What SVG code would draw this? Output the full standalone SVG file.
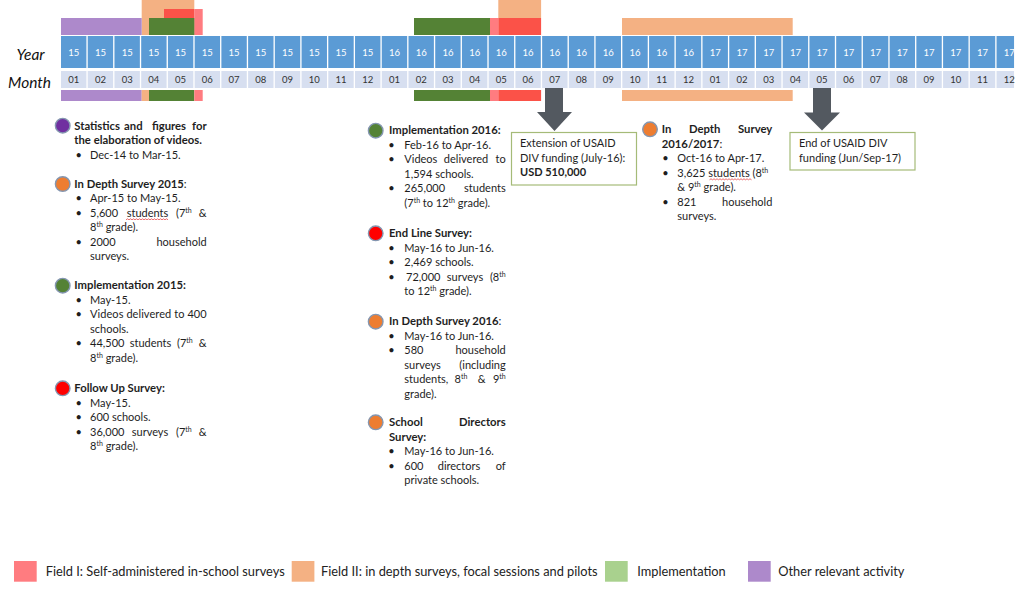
<svg xmlns="http://www.w3.org/2000/svg" width="1024" height="605" viewBox="0 0 1024 605">
<defs>
<style>
text{font-family:Lato,"Liberation Sans",sans-serif;fill:#1e1e1e}
.yc{fill:#5b9bd5}
.mc{fill:#d7dff0}
.yt{font-size:9.5px;fill:#fff;text-anchor:middle}
.mt{font-size:9.5px;fill:#333;text-anchor:middle}
.lab{font-size:15.5px;font-style:italic;fill:#111}
.b{font-size:11px}
.t{font-size:11.3px;font-weight:bold}
.n{font-weight:normal}
.e{text-anchor:end}
.m{text-anchor:middle}
.sup{font-size:7px}
.purple{fill:#ad89cb}
.orange{fill:#f4b183}
.red{fill:#fb5248}
.pink{fill:#ff7c80}
.green{fill:#548235}
.dot{stroke:#8496b0;stroke-width:1.4}
.box{fill:#fff;stroke:#a5bb78;stroke-width:1.2}
.bx{font-size:11px}
.arrow{fill:#535960}
.sq{fill:none;stroke:#e03030;stroke-width:0.7}
.leg{font-size:12.8px;fill:#222}
</style>
<path id="squig" d="M0 0l1.5-1l1.5 1l1.5-1l1.5 1l1.5-1l1.5 1l1.5-1l1.5 1l1.5-1l1.5 1l1.5-1l1.5 1l1.5-1l1.5 1l1.5-1l1.5 1l1.5-1l1.5 1l1.5-1l1.5 1l1.5-1l1.5 1l1.5-1l1.5 1l1.5-1l1.5 1l1.5-1l1.5 1"/>
</defs>
<rect width="1024" height="605" fill="#fff"/>

<g id="bars">
<rect class="orange" x="141.7" y="0" width="52.6" height="35"/>
<rect class="red" x="164" y="9" width="30.3" height="26"/>
<rect class="pink" x="194.3" y="9" width="8.4" height="26"/>
<rect class="purple" x="61" y="18" width="80.7" height="17"/>
<rect class="green" x="149" y="18" width="45.3" height="17"/>
<rect class="purple" x="61" y="90" width="80.7" height="11"/>
<rect class="orange" x="141.7" y="90" width="7.3" height="11"/>
<rect class="green" x="149" y="90" width="45.3" height="11"/>
<rect class="pink" x="194.3" y="90" width="8.4" height="11"/>
<rect class="green" x="414" y="18" width="76" height="17"/>
<rect class="pink" x="490" y="18" width="8.3" height="17"/>
<rect class="red" x="498.3" y="18" width="42.8" height="17"/>
<rect class="orange" x="498.3" y="0" width="42.8" height="18"/>
<rect class="green" x="414" y="90" width="76" height="11"/>
<rect class="pink" x="490" y="90" width="8.3" height="11"/>
<rect class="red" x="498.3" y="90" width="42.8" height="11"/>
<rect class="orange" x="622" y="18" width="170.7" height="17"/>
<rect class="orange" x="622" y="90" width="170.7" height="11"/>
</g>

<g id="timeline">
<text class="lab" x="16.5" y="60">Year</text>
<text class="lab" x="8" y="88">Month</text>
<g id="years">
<rect class="yc" x="61" y="36" width="25.4" height="32"/>
<rect class="yc" x="87.73" y="36" width="25.4" height="32"/>
<rect class="yc" x="114.46" y="36" width="25.4" height="32"/>
<rect class="yc" x="141.19" y="36" width="25.4" height="32"/>
<rect class="yc" x="167.92" y="36" width="25.4" height="32"/>
<rect class="yc" x="194.65" y="36" width="25.4" height="32"/>
<rect class="yc" x="221.38" y="36" width="25.4" height="32"/>
<rect class="yc" x="248.11" y="36" width="25.4" height="32"/>
<rect class="yc" x="274.84" y="36" width="25.4" height="32"/>
<rect class="yc" x="301.57" y="36" width="25.4" height="32"/>
<rect class="yc" x="328.3" y="36" width="25.4" height="32"/>
<rect class="yc" x="355.03" y="36" width="25.4" height="32"/>
<rect class="yc" x="381.76" y="36" width="25.4" height="32"/>
<rect class="yc" x="408.49" y="36" width="25.4" height="32"/>
<rect class="yc" x="435.22" y="36" width="25.4" height="32"/>
<rect class="yc" x="461.95" y="36" width="25.4" height="32"/>
<rect class="yc" x="488.68" y="36" width="25.4" height="32"/>
<rect class="yc" x="515.41" y="36" width="25.4" height="32"/>
<rect class="yc" x="542.14" y="36" width="25.4" height="32"/>
<rect class="yc" x="568.87" y="36" width="25.4" height="32"/>
<rect class="yc" x="595.6" y="36" width="25.4" height="32"/>
<rect class="yc" x="622.33" y="36" width="25.4" height="32"/>
<rect class="yc" x="649.06" y="36" width="25.4" height="32"/>
<rect class="yc" x="675.79" y="36" width="25.4" height="32"/>
<rect class="yc" x="702.52" y="36" width="25.4" height="32"/>
<rect class="yc" x="729.25" y="36" width="25.4" height="32"/>
<rect class="yc" x="755.98" y="36" width="25.4" height="32"/>
<rect class="yc" x="782.71" y="36" width="25.4" height="32"/>
<rect class="yc" x="809.44" y="36" width="25.4" height="32"/>
<rect class="yc" x="836.17" y="36" width="25.4" height="32"/>
<rect class="yc" x="862.9" y="36" width="25.4" height="32"/>
<rect class="yc" x="889.63" y="36" width="25.4" height="32"/>
<rect class="yc" x="916.36" y="36" width="25.4" height="32"/>
<rect class="yc" x="943.09" y="36" width="25.4" height="32"/>
<rect class="yc" x="969.82" y="36" width="25.4" height="32"/>
<rect class="yc" x="996.55" y="36" width="17.5" height="32"/>
<text class="yt" y="55.5"><tspan x="73.7">15</tspan><tspan x="100.43">15</tspan><tspan x="127.16">15</tspan><tspan x="153.89">15</tspan><tspan x="180.62">15</tspan><tspan x="207.35">15</tspan><tspan x="234.08">15</tspan><tspan x="260.81">15</tspan><tspan x="287.54">15</tspan><tspan x="314.27">15</tspan><tspan x="341">15</tspan><tspan x="367.73">15</tspan><tspan x="394.46">16</tspan><tspan x="421.19">16</tspan><tspan x="447.92">16</tspan><tspan x="474.65">16</tspan><tspan x="501.38">16</tspan><tspan x="528.11">16</tspan><tspan x="554.84">16</tspan><tspan x="581.57">16</tspan><tspan x="608.3">16</tspan><tspan x="635.03">16</tspan><tspan x="661.76">16</tspan><tspan x="688.49">16</tspan><tspan x="715.22">17</tspan><tspan x="741.95">17</tspan><tspan x="768.68">17</tspan><tspan x="795.41">17</tspan><tspan x="822.14">17</tspan><tspan x="848.87">17</tspan><tspan x="875.6">17</tspan><tspan x="902.33">17</tspan><tspan x="929.06">17</tspan><tspan x="955.79">17</tspan><tspan x="982.52">17</tspan><tspan x="1009.25">17</tspan></text>
</g>
<g id="months">
<rect class="mc" x="61" y="71" width="25.4" height="17"/>
<rect class="mc" x="87.73" y="71" width="25.4" height="17"/>
<rect class="mc" x="114.46" y="71" width="25.4" height="17"/>
<rect class="mc" x="141.19" y="71" width="25.4" height="17"/>
<rect class="mc" x="167.92" y="71" width="25.4" height="17"/>
<rect class="mc" x="194.65" y="71" width="25.4" height="17"/>
<rect class="mc" x="221.38" y="71" width="25.4" height="17"/>
<rect class="mc" x="248.11" y="71" width="25.4" height="17"/>
<rect class="mc" x="274.84" y="71" width="25.4" height="17"/>
<rect class="mc" x="301.57" y="71" width="25.4" height="17"/>
<rect class="mc" x="328.3" y="71" width="25.4" height="17"/>
<rect class="mc" x="355.03" y="71" width="25.4" height="17"/>
<rect class="mc" x="381.76" y="71" width="25.4" height="17"/>
<rect class="mc" x="408.49" y="71" width="25.4" height="17"/>
<rect class="mc" x="435.22" y="71" width="25.4" height="17"/>
<rect class="mc" x="461.95" y="71" width="25.4" height="17"/>
<rect class="mc" x="488.68" y="71" width="25.4" height="17"/>
<rect class="mc" x="515.41" y="71" width="25.4" height="17"/>
<rect class="mc" x="542.14" y="71" width="25.4" height="17"/>
<rect class="mc" x="568.87" y="71" width="25.4" height="17"/>
<rect class="mc" x="595.6" y="71" width="25.4" height="17"/>
<rect class="mc" x="622.33" y="71" width="25.4" height="17"/>
<rect class="mc" x="649.06" y="71" width="25.4" height="17"/>
<rect class="mc" x="675.79" y="71" width="25.4" height="17"/>
<rect class="mc" x="702.52" y="71" width="25.4" height="17"/>
<rect class="mc" x="729.25" y="71" width="25.4" height="17"/>
<rect class="mc" x="755.98" y="71" width="25.4" height="17"/>
<rect class="mc" x="782.71" y="71" width="25.4" height="17"/>
<rect class="mc" x="809.44" y="71" width="25.4" height="17"/>
<rect class="mc" x="836.17" y="71" width="25.4" height="17"/>
<rect class="mc" x="862.9" y="71" width="25.4" height="17"/>
<rect class="mc" x="889.63" y="71" width="25.4" height="17"/>
<rect class="mc" x="916.36" y="71" width="25.4" height="17"/>
<rect class="mc" x="943.09" y="71" width="25.4" height="17"/>
<rect class="mc" x="969.82" y="71" width="25.4" height="17"/>
<rect class="mc" x="996.55" y="71" width="17.5" height="17"/>
<text class="mt" y="83"><tspan x="73.7">01</tspan><tspan x="100.43">02</tspan><tspan x="127.16">03</tspan><tspan x="153.89">04</tspan><tspan x="180.62">05</tspan><tspan x="207.35">06</tspan><tspan x="234.08">07</tspan><tspan x="260.81">08</tspan><tspan x="287.54">09</tspan><tspan x="314.27">10</tspan><tspan x="341">11</tspan><tspan x="367.73">12</tspan><tspan x="394.46">01</tspan><tspan x="421.19">02</tspan><tspan x="447.92">03</tspan><tspan x="474.65">04</tspan><tspan x="501.38">05</tspan><tspan x="528.11">06</tspan><tspan x="554.84">07</tspan><tspan x="581.57">08</tspan><tspan x="608.3">09</tspan><tspan x="635.03">10</tspan><tspan x="661.76">11</tspan><tspan x="688.49">12</tspan><tspan x="715.22">01</tspan><tspan x="741.95">02</tspan><tspan x="768.68">03</tspan><tspan x="795.41">04</tspan><tspan x="822.14">05</tspan><tspan x="848.87">06</tspan><tspan x="875.6">07</tspan><tspan x="902.33">08</tspan><tspan x="929.06">09</tspan><tspan x="955.79">10</tspan><tspan x="982.52">11</tspan><tspan x="1009.25">12</tspan></text>
</g>
</g>

<g id="connectors">
<polygon class="arrow" points="545,88 563,88 563,112 572,112 554.5,131 537,112 545,112"/>
<polygon class="arrow" points="813,88 831,88 831,112.5 840,112.5 822,130.5 804,112.5 813,112.5"/>
</g>

<g id="extension-box">
<rect class="box" x="511.5" y="132.5" width="125" height="52.5"/>
<text class="bx" x="520" y="147">Extension of USAID</text>
<text class="bx" x="520" y="161.5">DIV funding (July-16):</text>
<text class="bx" x="520" y="176" font-weight="bold">USD 510,000</text>
</g>
<g id="end-box">
<rect class="box" x="790" y="132.5" width="125" height="37.5"/>
<text class="bx" x="799" y="147.3">End of USAID DIV</text>
<text class="bx" x="799" y="162">funding (Jun/Sep-17)</text>
</g>

<g id="statistics-2015">
<circle class="dot" cx="62.7" cy="125.7" r="7.3" fill="#7030a0"/>
<text class="t" x="74.3" y="129.5">Statistics</text>
<text class="t m" x="133.3" y="129.5">and</text>
<text class="t m" x="169" y="129.5">figures</text>
<text class="t e" x="206.7" y="129.5">for</text>
<text class="t" x="74.3" y="144">the elaboration of videos.</text>
<text class="b" x="75.5" y="158.5">•</text><text class="b" x="90" y="158.5">Dec-14 to Mar-15.</text>
</g>

<g id="in-depth-2015">
<circle class="dot" cx="62.7" cy="184" r="7.3" fill="#ed7d31"/>
<text class="t" x="74.3" y="187.7">In Depth Survey 2015<tspan class="n">:</tspan></text>
<text class="b" x="75.5" y="202">•</text><text class="b" x="90" y="202">Apr-15 to May-15.</text>
<text class="b" x="75.5" y="216.5">•</text><text class="b" x="90" y="216.5">5,600</text>
<text class="b m" x="147.5" y="216.5">students</text>
<use href="#squig" class="sq" x="126" y="219.8"/>
<text class="b" x="176" y="216.5">(7<tspan class="sup" dy="-4">th</tspan></text>
<text class="b e" x="206.7" y="216.5">&amp;</text>
<text class="b" x="90" y="231">8<tspan class="sup" dy="-4">th</tspan><tspan dy="4"> grade).</tspan></text>
<text class="b" x="75.5" y="245.5">•</text><text class="b" x="90" y="245.5">2000</text>
<text class="b e" x="206.7" y="245.5">household</text>
<text class="b" x="90" y="260">surveys.</text>
</g>

<g id="implementation-2015">
<circle class="dot" cx="62.7" cy="285.7" r="7.3" fill="#548235"/>
<text class="t" x="74.3" y="289.4">Implementation 2015:</text>
<text class="b" x="75.5" y="303.9">•</text><text class="b" x="90" y="303.9">May-15.</text>
<text class="b" x="75.5" y="318.4">•</text><text class="b" x="90" y="318.4" textLength="116.7" lengthAdjust="spacing">Videos delivered to 400</text>
<text class="b" x="90" y="332.9">schools.</text>
<text class="b" x="75.5" y="347.4">•</text><text class="b" x="90" y="347.4">44,500</text>
<text class="b m" x="150.5" y="347.4">students</text>
<text class="b" x="177" y="347.4">(7<tspan class="sup" dy="-4">th</tspan></text>
<text class="b e" x="206.7" y="347.4">&amp;</text>
<text class="b" x="90" y="361.9">8<tspan class="sup" dy="-4">th</tspan><tspan dy="4"> grade).</tspan></text>
</g>

<g id="follow-up-2015">
<circle class="dot" cx="62.7" cy="388.3" r="7.3" fill="#ff0000"/>
<text class="t" x="74.3" y="392">Follow Up Survey:</text>
<text class="b" x="75.5" y="406.5">•</text><text class="b" x="90" y="406.5">May-15.</text>
<text class="b" x="75.5" y="421">•</text><text class="b" x="90" y="421">600 schools.</text>
<text class="b" x="75.5" y="435.5">•</text><text class="b" x="90" y="435.5">36,000</text>
<text class="b m" x="150" y="435.5">surveys</text>
<text class="b" x="176" y="435.5">(7<tspan class="sup" dy="-4">th</tspan></text>
<text class="b e" x="206.7" y="435.5">&amp;</text>
<text class="b" x="90" y="450">8<tspan class="sup" dy="-4">th</tspan><tspan dy="4"> grade).</tspan></text>
</g>

<g id="implementation-2016">
<circle class="dot" cx="375.7" cy="130.7" r="7.3" fill="#548235"/>
<text class="t" x="389" y="134.4">Implementation 2016:</text>
<text class="b" x="388.3" y="148.9">•</text><text class="b" x="404.3" y="148.9">Feb-16 to Apr-16.</text>
<text class="b" x="388.3" y="163.4">•</text><text class="b" x="404.3" y="163.4">Videos</text>
<text class="b m" x="466" y="163.4">delivered</text>
<text class="b e" x="505.7" y="163.4">to</text>
<text class="b" x="404.3" y="177.9">1,594 schools.</text>
<text class="b" x="388.3" y="192.4">•</text><text class="b" x="404.3" y="192.4">265,000</text>
<text class="b e" x="505.7" y="192.4">students</text>
<text class="b" x="404.3" y="206.9">(7<tspan class="sup" dy="-4">th</tspan><tspan dy="4"> to 12</tspan><tspan class="sup" dy="-4">th</tspan><tspan dy="4"> grade).</tspan></text>
</g>

<g id="end-line-2016">
<circle class="dot" cx="375.7" cy="233.3" r="7.3" fill="#ff0000"/>
<text class="t" x="389" y="237">End Line Survey:</text>
<text class="b" x="388.3" y="251.5">•</text><text class="b" x="404.3" y="251.5">May-16 to Jun-16.</text>
<text class="b" x="388.3" y="266">•</text><text class="b" x="404.3" y="266">2,469 schools.</text>
<text class="b" x="388.3" y="280.5">•</text><text class="b" x="406" y="280.5">72,000</text>
<text class="b m" x="465" y="280.5">surveys</text>
<text class="b e" x="505.7" y="280.5">(8<tspan class="sup" dy="-4">th</tspan></text>
<text class="b" x="404.3" y="295">to 12<tspan class="sup" dy="-4">th</tspan><tspan dy="4"> grade).</tspan></text>
</g>

<g id="in-depth-2016">
<circle class="dot" cx="375.7" cy="321.7" r="7.3" fill="#ed7d31"/>
<text class="t" x="389" y="325.4">In Depth Survey 2016<tspan class="n">:</tspan></text>
<text class="b" x="388.3" y="339.9">•</text><text class="b" x="404.3" y="339.9">May-16 to Jun-16.</text>
<text class="b" x="388.3" y="354.4">•</text><text class="b" x="404.3" y="354.4">580</text>
<text class="b e" x="505.7" y="354.4">household</text>
<text class="b" x="404.3" y="368.9">surveys</text>
<text class="b e" x="505.7" y="368.9">(including</text>
<text class="b" x="404.3" y="383.4">students,</text>
<text class="b m" x="461" y="383.4">8<tspan class="sup" dy="-4">th</tspan></text>
<text class="b m" x="481.7" y="383.4">&amp;</text>
<text class="b e" x="505.7" y="383.4">9<tspan class="sup" dy="-4">th</tspan></text>
<text class="b" x="404.3" y="397.9">grade).</text>
</g>

<g id="school-directors-2016">
<circle class="dot" cx="375.7" cy="422.3" r="7.3" fill="#ed7d31"/>
<text class="t" x="389" y="426">School</text>
<text class="t e" x="505.7" y="426">Directors</text>
<text class="t" x="389" y="440.5">Survey:</text>
<text class="b" x="388.3" y="455">•</text><text class="b" x="404.3" y="455">May-16 to Jun-16.</text>
<text class="b" x="388.3" y="469.5">•</text><text class="b" x="404.3" y="469.5">600</text>
<text class="b m" x="459" y="469.5">directors</text>
<text class="b e" x="505.7" y="469.5">of</text>
<text class="b" x="404.3" y="484">private schools.</text>
</g>

<g id="in-depth-2016-2017">
<circle class="dot" cx="650" cy="129.3" r="7.3" fill="#ed7d31"/>
<text class="t" x="661.7" y="133">In</text>
<text class="t m" x="704.7" y="133">Depth</text>
<text class="t e" x="772.3" y="133">Survey</text>
<text class="t" x="661.7" y="147.5">2016/2017<tspan class="n">:</tspan></text>
<text class="b" x="662.3" y="162">•</text><text class="b" x="677.3" y="162">Oct-16 to Apr-17.</text>
<text class="b" x="662.3" y="176.5">•</text><text class="b" x="677.3" y="176.5">3,625 students (8<tspan class="sup" dy="-4">th</tspan></text>
<use href="#squig" class="sq" x="709.5" y="179.8"/>
<text class="b" x="677.3" y="191">&amp; 9<tspan class="sup" dy="-4">th</tspan><tspan dy="4"> grade).</tspan></text>
<text class="b" x="662.3" y="205.5">•</text><text class="b" x="677.3" y="205.5">821</text>
<text class="b e" x="772.3" y="205.5">household</text>
<text class="b" x="677.3" y="220">surveys.</text>
</g>

<g id="legend">
<rect class="pink" x="14" y="561" width="22.7" height="20.7"/>
<text class="leg" x="45.7" y="576">Field I: Self-administered in-school surveys</text>
<rect class="orange" x="291.7" y="561" width="22.7" height="20.7"/>
<text class="leg" x="321" y="576">Field II: in depth surveys, focal sessions and pilots</text>
<rect x="605" y="561" width="22.7" height="20.7" fill="#a9d18e"/>
<text class="leg" x="637.3" y="576">Implementation</text>
<rect class="purple" x="748" y="561" width="22.7" height="20.7"/>
<text class="leg" x="778.3" y="576">Other relevant activity</text>
</g>
</svg>
